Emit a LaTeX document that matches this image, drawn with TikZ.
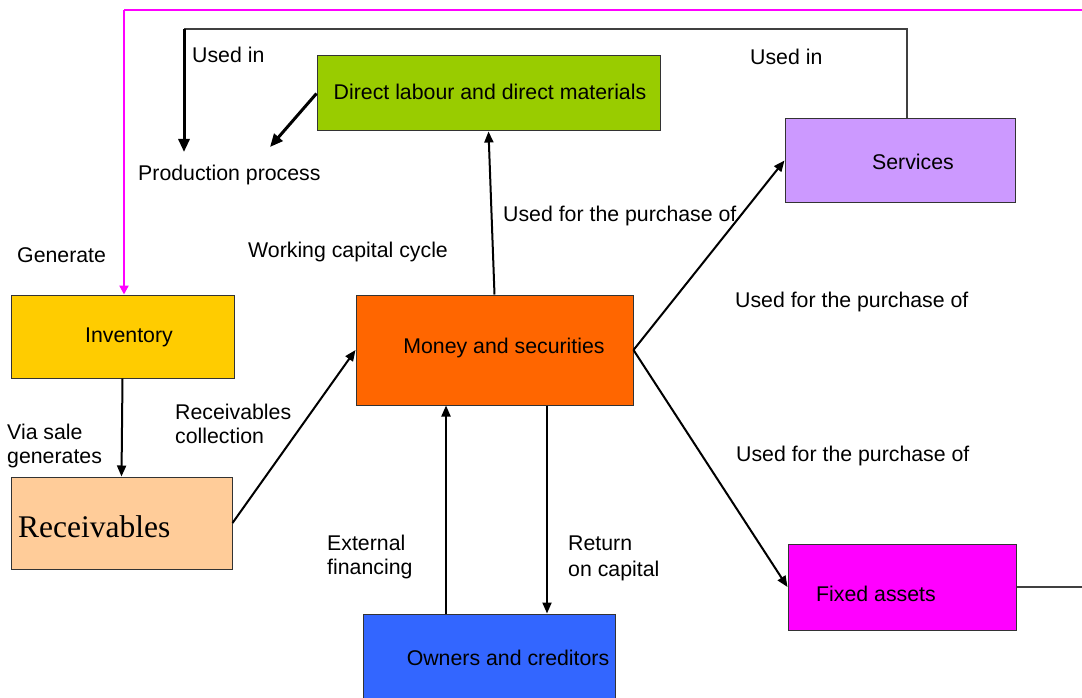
\documentclass[tikz,border=0pt]{standalone}
\usepackage{fontspec}
\setmainfont{Liberation Sans}
\newfontfamily\timesfam{Liberation Serif}
\usetikzlibrary{arrows.meta,calc}
\definecolor{boxline}{HTML}{333333}
\definecolor{cgreen}{HTML}{99CC00}
\definecolor{cviolet}{HTML}{CC99FF}
\definecolor{cgold}{HTML}{FFCC00}
\definecolor{corange}{HTML}{FF6600}
\definecolor{cpeach}{HTML}{FFCC99}
\definecolor{cblue}{HTML}{3366FF}
\definecolor{cmagenta}{HTML}{FF00FF}
\definecolor{thinline}{HTML}{404040}
\tikzset{
  box/.style={draw=boxline, line width=1pt, inner sep=0pt},
  txt/.style={inner sep=0pt, font=\fontsize{21.3}{24}\selectfont, align=left, yshift=-2pt},
  flow/.style={draw=black, line width=2pt, -{Triangle[length=11pt,width=9pt]}},
  heavy/.style={draw=black, line width=3pt, -{Triangle[length=13pt,width=11pt]}},
  plain/.style={draw=thinline, line width=1.2pt},
  pinkflow/.style={draw=cmagenta, line width=2.5pt, -{Triangle[length=9pt,width=9pt]}}
}
\begin{document}
\begin{tikzpicture}[x=1pt,y=-1pt]
\useasboundingbox (0,0) rectangle (1082,698);
\begin{scope}
\clip (0,0) rectangle (1082,698);

% boxes
\node[box, fill=cgreen, minimum width=343pt, minimum height=75pt] (direct) at (488.5,93.5) {};
\node[box, fill=cviolet, minimum width=230pt, minimum height=83pt] (services) at (900,160.5) {};
\node[box, fill=cgold, minimum width=223pt, minimum height=83pt] (inv) at (122.5,336.5) {};
\node[box, fill=corange, minimum width=277pt, minimum height=110pt] (money) at (494.5,350) {};
\node[box, fill=cpeach, minimum width=221pt, minimum height=92pt] (recv) at (121.5,523) {};
\node[box, fill=cblue, minimum width=252pt, minimum height=100pt] (owners) at (489,664) {};
\node[box, fill=cmagenta, minimum width=228pt, minimum height=86pt] (fixed) at (902,587) {};

% box texts
\node[txt, anchor=center] (directT) at (490,90) {Direct labour and direct materials};
\node[txt, anchor=center] (servicesT) at (913,160) {Services};
\node[txt, anchor=center] (invT) at (129,335) {Inventory};
\node[txt, anchor=center] (moneyT) at (504,346) {Money and securities};
\node[inner sep=0pt, anchor=west, font=\timesfam\fontsize{31.5}{34}\selectfont] (recvT) at (18,527) {Receivables};
\node[txt, anchor=center] (ownersT) at (508,656) {Owners and creditors};
\node[txt, anchor=center] (fixedT) at (876,592) {Fixed assets};

% free labels
\node[txt, anchor=west] (usedA) at (192,53) {Used in};
\node[txt, anchor=west] (usedB) at (750,55) {Used in};
\node[txt, anchor=west] (prod) at (138,173) {Production process};
\node[txt, anchor=west] (purchA) at (503,214) {Used for the purchase of};
\node[txt, anchor=west] (wcc) at (248,250) {Working capital cycle};
\node[txt, anchor=west] (gen) at (17,253) {Generate};
\node[txt, anchor=west] (purchB) at (735,300) {Used for the purchase of};
\node[txt, anchor=west] (rcoll) at (175,422) {Receivables\\collection};
\node[txt, anchor=west] (vsale) at (7,444) {Via sale\\generates};
\node[txt, anchor=west] (purchC) at (736,454) {Used for the purchase of};
\node[txt, anchor=west] (extf) at (327,555) {External\\financing};
\node[txt, anchor=west] (roc) at (568,556) {Return\\[2pt]on capital};

% helper points
\coordinate (topL) at (184,29);
\coordinate (pinkL) at (124,10);
\coordinate (pinkR) at (1082,10);
\coordinate (prodA) at (184,152);
\coordinate (prodB) at (270,147);
\coordinate (colA) at (446,0);
\coordinate (colB) at (547,0);
\coordinate (edgeR) at (1082,588);

% magenta loop into inventory
\draw[cmagenta, line width=2.5pt] (pinkR) -- (pinkL);
\draw[pinkflow] (pinkL) -- (inv.north -| pinkL);

% services feed back to production
\draw[plain] ($(services.north)+(7,0)$) |- (topL);
\draw[heavy] (topL) -- (prodA);
\draw[heavy] (direct.west) -- (prodB);

% money flows
\draw[flow] (money.north) -- (direct.south);
\draw[flow] (money.east) -- (services.west);
\draw[flow] (money.east) -- (fixed.west);
\draw[flow] (recv.east) -- (money.west);
\draw[flow] (inv.south) -- (recv.north);
\draw[flow] (owners.north -| colA) -- (money.south -| colA);
\draw[flow] (money.south -| colB) -- (owners.north -| colB);
\draw[plain] (fixed.east) -- (fixed.east -| edgeR);
\end{scope}
\end{tikzpicture}
\end{document}
